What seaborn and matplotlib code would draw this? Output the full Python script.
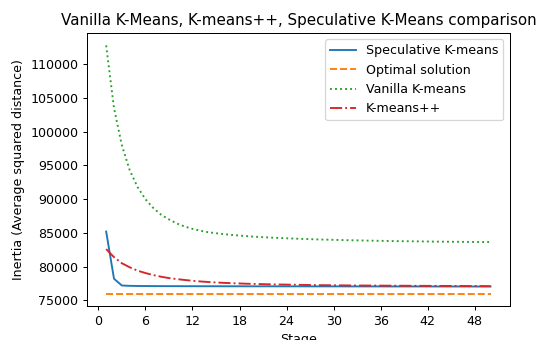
import matplotlib
matplotlib.use("Agg")
import matplotlib.pyplot as plt
import seaborn as sns
import pandas as pd

stages = list(range(1, 51))

speculative = [85200, 78200, 77200, 77150, 77130, 77120, 77110, 77105, 77100, 77100,
               77095, 77095, 77090, 77090, 77090, 77085, 77085, 77085, 77080, 77080,
               77080, 77080, 77075, 77075, 77075, 77075, 77070, 77070, 77070, 77070,
               77070, 77065, 77065, 77065, 77065, 77065, 77060, 77060, 77060, 77060,
               77060, 77060, 77055, 77055, 77055, 77055, 77055, 77050, 77050, 77050]

optimal = [76000] * 50

vanilla = [112800, 103500, 98000, 94300, 91800, 90000, 88700, 87700, 87000, 86400,
           85950, 85600, 85330, 85100, 84950, 84820, 84700, 84600, 84510, 84430,
           84360, 84300, 84250, 84200, 84150, 84110, 84070, 84030, 84000, 83970,
           83940, 83910, 83890, 83860, 83840, 83820, 83800, 83780, 83765, 83750,
           83735, 83720, 83705, 83695, 83685, 83675, 83665, 83655, 83645, 83640]

kmeanspp = [82600, 81400, 80500, 79900, 79400, 79050, 78750, 78500, 78300, 78150,
            78020, 77900, 77800, 77720, 77650, 77590, 77540, 77500, 77460, 77430,
            77400, 77370, 77350, 77330, 77310, 77290, 77270, 77250, 77240, 77230,
            77220, 77210, 77200, 77195, 77190, 77180, 77175, 77170, 77160, 77155,
            77150, 77145, 77140, 77135, 77130, 77125, 77120, 77115, 77110, 77100]

series = {
    "Speculative K-means": (speculative, "-", "tab:blue"),
    "Optimal solution": (optimal, "--", "tab:orange"),
    "Vanilla K-means": (vanilla, ":", "tab:green"),
    "K-means++": (kmeanspp, "-.", "tab:red"),
}

DPI = 91
fig = plt.figure(figsize=(540 / DPI, 340 / DPI), dpi=DPI)
ax = fig.add_axes([0.161, 0.1, 0.783, 0.803])

for name, (vals, ls, col) in series.items():
    df = pd.DataFrame({"Stage": stages, "Inertia": vals})
    sns.lineplot(data=df, x="Stage", y="Inertia", ax=ax, label=name,
                 linestyle=ls, color=col, linewidth=1.5)

ax.set_xticks(range(0, 49, 6))
ax.set_xlabel("Stage")
ax.set_ylabel("Inertia (Average squared distance)")
ax.set_title("Vanilla K-Means, K-means++, Speculative K-Means comparison")
ax.legend(loc="upper right")

fig.savefig("out.png", dpi=DPI)
